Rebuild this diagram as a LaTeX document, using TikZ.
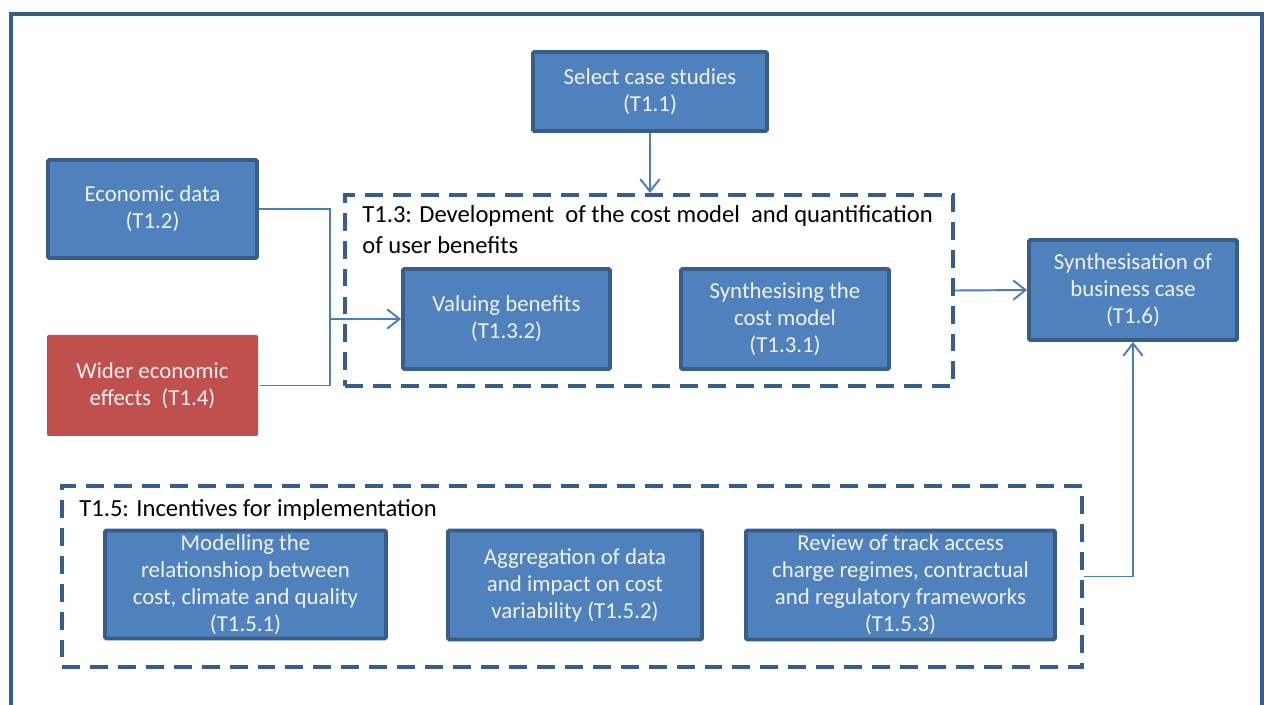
\documentclass[tikz,border=0pt]{standalone}
\usepackage{fontspec}
\setmainfont{Carlito}
\usetikzlibrary{arrows.meta}
\definecolor{boxfill}{HTML}{4F81BD}
\definecolor{boxline}{HTML}{385D8A}
\definecolor{redfill}{HTML}{C0504D}
\definecolor{conn}{HTML}{4A7EBB}
\definecolor{boxtext}{HTML}{F2F2F2}
\tikzset{
  px/.style={x=0.02cm,y=-0.02cm},
  task/.style={draw=boxline, line width=2.2pt, fill=boxfill, text=boxtext,
    align=center, inner sep=0pt, rounded corners=0.8pt,
    font=\fontsize{13pt}{15.4pt}\selectfont},
  redtask/.style={task, draw=none, fill=redfill},
  group/.style={draw=boxline, line width=2.3pt, dash pattern=on 10.2pt off 5.7pt,
    inner sep=0pt},
  grouplabel/.style={anchor=north west, align=left, inner sep=0pt,
    font=\fontsize{14pt}{17.6pt}\selectfont, text=black},
  conn/.style={draw=conn, line width=1.1pt},
  arr/.style={conn, -{Straight Barb[length=7pt,width=11pt,line width=1.1pt]}},
  frame/.style={draw=boxline, line width=2pt}
}
\begin{document}
\begin{tikzpicture}[px]
\useasboundingbox (0,0) rectangle (1264,705);
% outer frame (open at the bottom)
\draw[frame] (11,705) -- (11,14) -- (1262,14) -- (1262,705);

% dashed groups
\node[group, minimum width=608*0.02cm, minimum height=191*0.02cm] (t13) at (649,290.5) {};
\node[group, minimum width=1020*0.02cm, minimum height=181*0.02cm] (t15) at (572,576.5) {};
\node[grouplabel] (t13lab) at (362,205) {T1.3: Development\ \ of the cost model\ \ and quantification\\of user benefits};
\node[grouplabel] (t15lab) at (79,499) {T1.5: Incentives for implementation};

% task boxes
\node[task, minimum width=234*0.02cm, minimum height=79*0.02cm] (sel) at (650,91.5) {Select case studies\\(T1.1)};
\node[task, minimum width=209*0.02cm, minimum height=98*0.02cm] (eco) at (152.5,209) {Economic data\\(T1.2)};
\node[redtask, minimum width=211*0.02cm, minimum height=101*0.02cm] (wid) at (152.5,385.5) {Wider economic\\effects\ \ (T1.4)};
\node[task, minimum width=207*0.02cm, minimum height=100*0.02cm] (val) at (506.5,319) {Valuing benefits\\(T1.3.2)};
\node[task, minimum width=208*0.02cm, minimum height=100*0.02cm] (syn) at (785,319) {Synthesising the\\cost model\\(T1.3.1)};
\node[task, minimum width=208*0.02cm, minimum height=100*0.02cm] (bus) at (1133,290) {Synthesisation of\\business case\\(T1.6)};
\node[task, minimum width=281*0.02cm, minimum height=108*0.02cm] (mod) at (245.5,584.5) {Modelling the\\relationshiop between\\cost, climate and quality\\(T1.5.1)};
\node[task, minimum width=254*0.02cm, minimum height=109*0.02cm] (agg) at (575,585) {Aggregation of data\\and impact on cost\\variability (T1.5.2)};
\node[task, minimum width=309*0.02cm, minimum height=109*0.02cm] (rev) at (900.5,585) {Review of track access\\charge regimes, contractual\\and regulatory frameworks\\(T1.5.3)};

% connectors
\coordinate (jn) at (330,319);
\draw[conn] (eco.east) -| (jn);
\draw[conn] (wid.east) -| (jn);
\draw[arr] (jn) -- (val.west);
\draw[arr] (sel.south) -- (sel.south |- t13.north);
\draw[arr] (t13.east) -- (bus.west);
\draw[arr] (t15.east) -| (bus.south);
\end{tikzpicture}
\end{document}
